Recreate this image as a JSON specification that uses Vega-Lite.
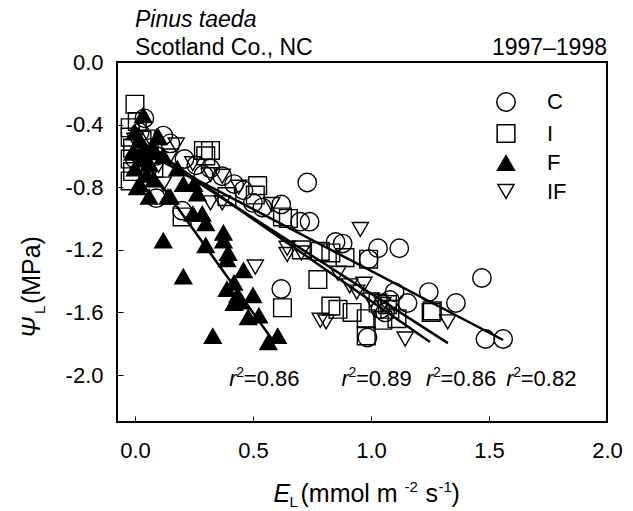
{
  "$schema": "https://vega.github.io/schema/vega-lite/v6.json",
  "width": 490,
  "height": 360,
  "autosize": {"type": "none"},
  "padding": {"left": 117, "top": 62, "right": 26, "bottom": 89},
  "config": {
    "font": "Liberation Sans",
    "view": {"stroke": "black", "strokeWidth": 2},
    "axis": {"grid": false, "domain": false, "tickColor": "black", "tickSize": -6, "tickWidth": 1, "labelColor": "black", "labelFont": "Liberation Sans", "labelFontSize": 22, "labelFlush": false, "labelOverlap": false},
    "legend": {"orient": "none", "legendX": 378, "legendY": 29, "title": null, "padding": 0, "labelFontSize": 22, "labelFont": "Liberation Sans", "labelColor": "black", "labelOffset": 30, "rowPadding": 6.5, "symbolOpacity": 1}
  },
  "datasets": {
    "pts": [
      {"trt": "C", "EL": 0.04, "psi": -0.36}, {"trt": "C", "EL": 0.12, "psi": -0.47}, {"trt": "C", "EL": 0.02, "psi": -0.45}, {"trt": "C", "EL": 0.06, "psi": -0.55},
      {"trt": "C", "EL": 0.09, "psi": -0.60}, {"trt": "C", "EL": 0.0, "psi": -0.62}, {"trt": "C", "EL": 0.05, "psi": -0.70}, {"trt": "C", "EL": 0.15, "psi": -0.52},
      {"trt": "C", "EL": 0.21, "psi": -0.62}, {"trt": "C", "EL": 0.26, "psi": -0.66}, {"trt": "C", "EL": 0.32, "psi": -0.68}, {"trt": "C", "EL": 0.37, "psi": -0.73},
      {"trt": "C", "EL": 0.20, "psi": -0.95}, {"trt": "C", "EL": 0.09, "psi": -0.87}, {"trt": "C", "EL": 0.42, "psi": -0.78}, {"trt": "C", "EL": 0.50, "psi": -0.90},
      {"trt": "C", "EL": 0.62, "psi": -0.91}, {"trt": "C", "EL": 0.73, "psi": -0.77}, {"trt": "C", "EL": 0.70, "psi": -1.02}, {"trt": "C", "EL": 0.74, "psi": -1.02},
      {"trt": "C", "EL": 0.85, "psi": -1.15}, {"trt": "C", "EL": 0.88, "psi": -1.16}, {"trt": "C", "EL": 1.03, "psi": -1.19}, {"trt": "C", "EL": 1.12, "psi": -1.19},
      {"trt": "C", "EL": 0.99, "psi": -1.26}, {"trt": "C", "EL": 0.62, "psi": -1.45}, {"trt": "C", "EL": 1.10, "psi": -1.47}, {"trt": "C", "EL": 1.245, "psi": -1.47},
      {"trt": "C", "EL": 1.36, "psi": -1.54}, {"trt": "C", "EL": 1.155, "psi": -1.54}, {"trt": "C", "EL": 1.06, "psi": -1.60}, {"trt": "C", "EL": 0.985, "psi": -1.76},
      {"trt": "C", "EL": 1.47, "psi": -1.38}, {"trt": "C", "EL": 1.485, "psi": -1.77}, {"trt": "C", "EL": 1.56, "psi": -1.77}, {"trt": "C", "EL": 1.08, "psi": -1.52},
      {"trt": "C", "EL": 1.04, "psi": -1.58}, {"trt": "C", "EL": 0.54, "psi": -0.93}, {"trt": "C", "EL": 0.46, "psi": -0.82}, {"trt": "C", "EL": 0.29, "psi": -0.72},

      {"trt": "I", "EL": 0.0, "psi": -0.27}, {"trt": "I", "EL": -0.02, "psi": -0.42}, {"trt": "I", "EL": -0.02, "psi": -0.48}, {"trt": "I", "EL": -0.01, "psi": -0.55},
      {"trt": "I", "EL": -0.02, "psi": -0.62}, {"trt": "I", "EL": -0.01, "psi": -0.70}, {"trt": "I", "EL": -0.02, "psi": -0.76}, {"trt": "I", "EL": 0.01, "psi": -0.38},
      {"trt": "I", "EL": 0.03, "psi": -0.50}, {"trt": "I", "EL": 0.29, "psi": -0.565}, {"trt": "I", "EL": 0.32, "psi": -0.565}, {"trt": "I", "EL": 0.30, "psi": -0.60},
      {"trt": "I", "EL": 0.52, "psi": -0.79}, {"trt": "I", "EL": 0.51, "psi": -0.85}, {"trt": "I", "EL": 0.39, "psi": -0.86}, {"trt": "I", "EL": 0.20, "psi": -0.99},
      {"trt": "I", "EL": 0.625, "psi": -0.99}, {"trt": "I", "EL": 0.65, "psi": -1.0}, {"trt": "I", "EL": 0.775, "psi": -1.39}, {"trt": "I", "EL": 0.83, "psi": -1.56},
      {"trt": "I", "EL": 0.86, "psi": -1.58}, {"trt": "I", "EL": 0.785, "psi": -1.21}, {"trt": "I", "EL": 0.83, "psi": -1.22}, {"trt": "I", "EL": 0.89, "psi": -1.25},
      {"trt": "I", "EL": 0.625, "psi": -1.57}, {"trt": "I", "EL": 0.92, "psi": -1.60}, {"trt": "I", "EL": 0.99, "psi": -1.26}, {"trt": "I", "EL": 1.03, "psi": -1.54},
      {"trt": "I", "EL": 1.07, "psi": -1.55}, {"trt": "I", "EL": 1.255, "psi": -1.60}, {"trt": "I", "EL": 0.98, "psi": -1.64}, {"trt": "I", "EL": 1.11, "psi": -1.64},
      {"trt": "I", "EL": 1.26, "psi": -1.59}, {"trt": "I", "EL": 1.05, "psi": -1.65}, {"trt": "I", "EL": 0.705, "psi": -1.20}, {"trt": "I", "EL": 1.08, "psi": -1.58},
      {"trt": "I", "EL": 0.08, "psi": -0.68}, {"trt": "I", "EL": 0.98, "psi": -1.75},

      {"trt": "F", "EL": 0.035, "psi": -0.34}, {"trt": "F", "EL": 0.10, "psi": -0.48}, {"trt": "F", "EL": 0.0, "psi": -0.45}, {"trt": "F", "EL": 0.02, "psi": -0.50},
      {"trt": "F", "EL": 0.04, "psi": -0.55}, {"trt": "F", "EL": -0.01, "psi": -0.58}, {"trt": "F", "EL": 0.03, "psi": -0.62}, {"trt": "F", "EL": 0.06, "psi": -0.65},
      {"trt": "F", "EL": 0.0, "psi": -0.68}, {"trt": "F", "EL": 0.05, "psi": -0.72}, {"trt": "F", "EL": 0.02, "psi": -0.78}, {"trt": "F", "EL": 0.01, "psi": -0.80},
      {"trt": "F", "EL": 0.06, "psi": -0.86}, {"trt": "F", "EL": 0.08, "psi": -0.56}, {"trt": "F", "EL": 0.12, "psi": -0.60}, {"trt": "F", "EL": 0.15, "psi": -0.86},
      {"trt": "F", "EL": 0.205, "psi": -0.78}, {"trt": "F", "EL": 0.25, "psi": -0.78}, {"trt": "F", "EL": 0.265, "psi": -0.84}, {"trt": "F", "EL": 0.14, "psi": -0.86},
      {"trt": "F", "EL": 0.245, "psi": -0.97}, {"trt": "F", "EL": 0.285, "psi": -0.97}, {"trt": "F", "EL": 0.30, "psi": -1.03}, {"trt": "F", "EL": 0.12, "psi": -1.14},
      {"trt": "F", "EL": 0.205, "psi": -1.37}, {"trt": "F", "EL": 0.30, "psi": -1.17}, {"trt": "F", "EL": 0.375, "psi": -1.09}, {"trt": "F", "EL": 0.375, "psi": -1.14},
      {"trt": "F", "EL": 0.395, "psi": -1.22}, {"trt": "F", "EL": 0.39, "psi": -1.26}, {"trt": "F", "EL": 0.46, "psi": -1.33}, {"trt": "F", "EL": 0.42, "psi": -1.41},
      {"trt": "F", "EL": 0.39, "psi": -1.45}, {"trt": "F", "EL": 0.435, "psi": -1.49}, {"trt": "F", "EL": 0.42, "psi": -1.54}, {"trt": "F", "EL": 0.50, "psi": -1.49},
      {"trt": "F", "EL": 0.45, "psi": -1.53}, {"trt": "F", "EL": 0.48, "psi": -1.63}, {"trt": "F", "EL": 0.525, "psi": -1.62}, {"trt": "F", "EL": 0.605, "psi": -1.75},
      {"trt": "F", "EL": 0.565, "psi": -1.79}, {"trt": "F", "EL": 0.33, "psi": -1.75}, {"trt": "F", "EL": 0.18, "psi": -0.68}, {"trt": "F", "EL": 0.08, "psi": -0.75},

      {"trt": "IF", "EL": 0.0, "psi": -0.50}, {"trt": "IF", "EL": 0.03, "psi": -0.58}, {"trt": "IF", "EL": 0.06, "psi": -0.48}, {"trt": "IF", "EL": 0.08, "psi": -0.62},
      {"trt": "IF", "EL": 0.10, "psi": -0.66}, {"trt": "IF", "EL": 0.175, "psi": -0.53}, {"trt": "IF", "EL": 0.15, "psi": -0.60}, {"trt": "IF", "EL": 0.245, "psi": -0.65},
      {"trt": "IF", "EL": 0.32, "psi": -0.72}, {"trt": "IF", "EL": 0.37, "psi": -0.73}, {"trt": "IF", "EL": 0.32, "psi": -0.90}, {"trt": "IF", "EL": 0.37, "psi": -0.90},
      {"trt": "IF", "EL": 0.58, "psi": -0.91}, {"trt": "IF", "EL": 0.51, "psi": -1.31}, {"trt": "IF", "EL": 0.645, "psi": -1.19}, {"trt": "IF", "EL": 0.645, "psi": -1.23},
      {"trt": "IF", "EL": 0.955, "psi": -1.07}, {"trt": "IF", "EL": 0.86, "psi": -1.35}, {"trt": "IF", "EL": 0.91, "psi": -1.43}, {"trt": "IF", "EL": 0.94, "psi": -1.47},
      {"trt": "IF", "EL": 0.97, "psi": -1.42}, {"trt": "IF", "EL": 0.81, "psi": -1.66}, {"trt": "IF", "EL": 1.145, "psi": -1.77}, {"trt": "IF", "EL": 1.325, "psi": -1.66},
      {"trt": "IF", "EL": 0.785, "psi": -1.65}, {"trt": "IF", "EL": 1.05, "psi": -1.55}, {"trt": "IF", "EL": 0.705, "psi": -1.22}, {"trt": "IF", "EL": 0.12, "psi": -0.78},
      {"trt": "IF", "EL": 0.02, "psi": -0.66}, {"trt": "IF", "EL": 1.0, "psi": -1.52}, {"trt": "IF", "EL": 0.44, "psi": -0.80}
    ],
    "fit": [
      {"trt": "C", "EL": 0.02, "psi": -0.561}, {"trt": "C", "EL": 1.56, "psi": -1.776},
      {"trt": "I", "EL": 0.02, "psi": -0.50}, {"trt": "I", "EL": 1.25, "psi": -1.789},
      {"trt": "IF", "EL": 0.02, "psi": -0.53}, {"trt": "IF", "EL": 1.326, "psi": -1.796},
      {"trt": "F", "EL": 0.02, "psi": -0.592}, {"trt": "F", "EL": 0.585, "psi": -1.78}
    ],
    "ann": [
      {"EL": 0.40, "psi": -2.07, "v": "=0.86"},
      {"EL": 0.875, "psi": -2.07, "v": "=0.89"},
      {"EL": 1.233, "psi": -2.07, "v": "=0.86"},
      {"EL": 1.573, "psi": -2.07, "v": "=0.82"}
    ]
  },
  "encoding": {
    "x": {"field": "EL", "type": "quantitative", "scale": {"domain": [-0.076, 2.0], "nice": false, "zero": false},
      "axis": {"title": null, "values": [0, 0.5, 1, 1.5, 2], "labelExpr": "format(datum.value, '.1f')", "labelPadding": 24}},
    "y": {"field": "psi", "type": "quantitative", "scale": {"domain": [-2.3, 0], "nice": false, "zero": false},
      "axis": {"title": null, "values": [0, -0.4, -0.8, -1.2, -1.6, -2.0], "labelExpr": "datum.value < 0 ? '-' + format(-datum.value, '.1f') : format(datum.value, '.1f')", "labelPadding": 20}}
  },
  "layer": [
    {
      "data": {"name": "pts"},
      "mark": {"type": "point", "filled": true, "stroke": "black", "strokeWidth": 1.4, "opacity": 1},
      "encoding": {
        "shape": {"field": "trt", "type": "nominal", "scale": {"domain": ["C", "I", "F", "IF"], "range": ["circle", "square", "triangle-up", "triangle-down"]},
          "legend": {"encode": {"symbols": {"update": {"stroke": {"value": "black"}, "strokeWidth": {"value": 1.4}}}}}},
        "fill": {"field": "trt", "type": "nominal", "scale": {"domain": ["C", "I", "F", "IF"], "range": ["transparent", "transparent", "black", "transparent"]},
          "legend": {"encode": {"symbols": {"update": {"stroke": {"value": "black"}, "strokeWidth": {"value": 1.4}}}}}},
        "size": {"field": "trt", "type": "nominal", "scale": {"domain": ["C", "I", "F", "IF"], "range": [340, 260, 400, 400]},
          "legend": {"encode": {"symbols": {"update": {"stroke": {"value": "black"}, "strokeWidth": {"value": 1.4}}}}}}
      }
    },
    {
      "data": {"name": "fit"},
      "mark": {"type": "line", "color": "black", "strokeWidth": 2.5},
      "encoding": {"detail": {"field": "trt", "type": "nominal"}}
    },
    {
      "data": {"name": "ann"},
      "mark": {"type": "text", "align": "left", "baseline": "alphabetic", "fontSize": 22, "fontStyle": "italic", "color": "black"},
      "encoding": {"text": {"value": "r"}}
    },
    {
      "data": {"name": "ann"},
      "mark": {"type": "text", "align": "left", "baseline": "alphabetic", "fontSize": 14, "dx": 7, "dy": -9, "color": "black"},
      "encoding": {"text": {"value": "2"}}
    },
    {
      "data": {"name": "ann"},
      "mark": {"type": "text", "align": "left", "baseline": "alphabetic", "fontSize": 22, "dx": 14.5, "color": "black"},
      "encoding": {"text": {"field": "v"}}
    },
    {
      "data": {"values": [{"EL": 0.0, "psi": 0.224, "t": "Pinus taeda"}]},
      "mark": {"type": "text", "align": "left", "baseline": "alphabetic", "fontSize": 23, "fontStyle": "italic", "color": "black"},
      "encoding": {"text": {"field": "t"}}
    },
    {
      "data": {"values": [{"EL": 0.0, "psi": 0.045, "t": "Scotland Co., NC"}]},
      "mark": {"type": "text", "align": "left", "baseline": "alphabetic", "fontSize": 23, "color": "black"},
      "encoding": {"text": {"field": "t"}}
    },
    {
      "data": {"values": [{"EL": 2.0, "psi": 0.045, "t": "1997–1998"}]},
      "mark": {"type": "text", "align": "right", "baseline": "alphabetic", "fontSize": 23, "color": "black"},
      "encoding": {"text": {"field": "t"}}
    },
    {
      "data": {"values": [{"EL": 0.587, "psi": -2.811, "t": "E"}]},
      "mark": {"type": "text", "align": "left", "baseline": "alphabetic", "fontSize": 25, "fontStyle": "italic", "color": "black"},
      "encoding": {"text": {"field": "t"}}
    },
    {
      "data": {"values": [{"EL": 0.587, "psi": -2.811, "t": "L"}]},
      "mark": {"type": "text", "align": "left", "baseline": "alphabetic", "fontSize": 15, "dx": 16, "dy": 5, "color": "black"},
      "encoding": {"text": {"field": "t"}}
    },
    {
      "data": {"values": [{"EL": 0.587, "psi": -2.811, "t": "(mmol m"}]},
      "mark": {"type": "text", "align": "left", "baseline": "alphabetic", "fontSize": 25, "dx": 27, "color": "black"},
      "encoding": {"text": {"field": "t"}}
    },
    {
      "data": {"values": [{"EL": 0.587, "psi": -2.811, "t": "-2"}]},
      "mark": {"type": "text", "align": "left", "baseline": "alphabetic", "fontSize": 15, "dx": 131, "dy": -10, "color": "black"},
      "encoding": {"text": {"field": "t"}}
    },
    {
      "data": {"values": [{"EL": 0.587, "psi": -2.811, "t": "s"}]},
      "mark": {"type": "text", "align": "left", "baseline": "alphabetic", "fontSize": 25, "dx": 152, "color": "black"},
      "encoding": {"text": {"field": "t"}}
    },
    {
      "data": {"values": [{"EL": 0.587, "psi": -2.811, "t": "-1"}]},
      "mark": {"type": "text", "align": "left", "baseline": "alphabetic", "fontSize": 15, "dx": 165, "dy": -10, "color": "black"},
      "encoding": {"text": {"field": "t"}}
    },
    {
      "data": {"values": [{"EL": 0.587, "psi": -2.811, "t": ")"}]},
      "mark": {"type": "text", "align": "left", "baseline": "alphabetic", "fontSize": 25, "dx": 178, "color": "black"},
      "encoding": {"text": {"field": "t"}}
    },
    {
      "data": {"values": [{"EL": -0.4025, "psi": -1.764, "t": "Ψ"}]},
      "mark": {"type": "text", "align": "left", "baseline": "alphabetic", "angle": 270, "fontSize": 25, "fontStyle": "italic", "color": "black"},
      "encoding": {"text": {"field": "t"}}
    },
    {
      "data": {"values": [{"EL": -0.4025, "psi": -1.764, "t": "L"}]},
      "mark": {"type": "text", "align": "left", "baseline": "alphabetic", "angle": 270, "fontSize": 15, "dx": 24, "dy": 5, "color": "black"},
      "encoding": {"text": {"field": "t"}}
    },
    {
      "data": {"values": [{"EL": -0.4025, "psi": -1.764, "t": "(MPa)"}]},
      "mark": {"type": "text", "align": "left", "baseline": "alphabetic", "angle": 270, "fontSize": 25, "dx": 34, "color": "black"},
      "encoding": {"text": {"field": "t"}}
    }
  ]
}
